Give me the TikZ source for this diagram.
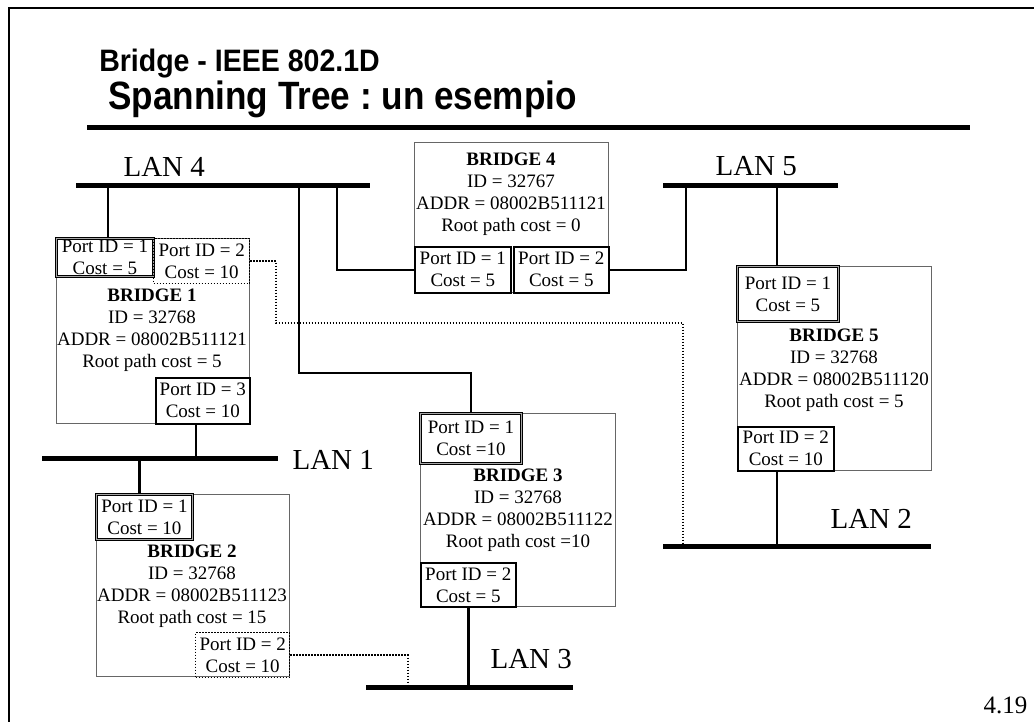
\documentclass[tikz,border=0pt]{standalone}
\usepackage{fontspec}
\setmainfont{Liberation Serif}
\newfontfamily\headfont{Liberation Sans}
\frenchspacing
\begin{document}
\begin{tikzpicture}[x=1pt, y=-1pt, font=\fontsize{19}{22}\selectfont,
    bridgebox/.style={draw=black!60, line width=0.8pt, inner sep=0pt, anchor=north west},
    portbox/.style={inner sep=0pt, anchor=north west, align=center},
    rootport/.style={portbox, draw, double=black!35, double distance=1.4pt, line width=0.9pt},
    desport/.style={portbox, draw, line width=1.6pt},
    blkport/.style={portbox, draw, dash pattern=on 1.5pt off 1.5pt, line width=1.4pt},
    bus/.style={line width=5pt},
    link/.style={line width=2.5pt},
    blklink/.style={dash pattern=on 1.5pt off 1.5pt, line width=1.6pt},
    lanlabel/.style={anchor=base west, font=\fontsize{29}{34}\selectfont},
    info/.style={align=center}]
  \useasboundingbox (0,0) rectangle (1034,722);
  % frame and heading
  \draw[line width=2.6pt] (9,722) -- (9,8) -- (1034,8);
  \node[anchor=base west, xscale=0.92, font=\headfont\bfseries\fontsize{31}{36}\selectfont] (head) at (96,72) {Bridge - IEEE 802.1D};
  \node[anchor=base west, xscale=0.89, font=\headfont\bfseries\fontsize{39.5}{46}\selectfont] (title) at (105,110) {Spanning Tree : un esempio};
  \draw[line width=5pt] (87,128) -- (970,128);
  \node[anchor=base east, font=\fontsize{25}{30}\selectfont] (pageno) at (1031,713) {4.19};

  % LANs
  \coordinate (lan4w) at (76,186);  \coordinate (lan4e) at (370,186);
  \coordinate (lan5w) at (663,186); \coordinate (lan5e) at (838,186);
  \coordinate (lan1w) at (42,458);  \coordinate (lan1e) at (278,458);
  \coordinate (lan2w) at (663,546); \coordinate (lan2e) at (931,546);
  \coordinate (lan3w) at (366,687); \coordinate (lan3e) at (573,687);
  \foreach \l in {4,5,1,2,3} \draw[bus] (lan\l w) -- (lan\l e);
  \node[lanlabel] (lab4) at (120,177) {LAN 4};
  \node[lanlabel] (lab5) at (712,176) {LAN 5};
  \node[lanlabel] (lab1) at (289,469) {LAN 1};
  \node[lanlabel] (lab2) at (827,528) {LAN 2};
  \node[lanlabel] (lab3) at (487,668) {LAN 3};

  % bridges
  \node[bridgebox, minimum width=193, minimum height=185] (b1) at (56,238) {};
  \node[bridgebox, minimum width=193, minimum height=182] (b2) at (96,494) {};
  \node[bridgebox, minimum width=195, minimum height=193] (b3) at (420,413) {};
  \node[bridgebox, minimum width=194, minimum height=150] (b4) at (414,142) {};
  \node[bridgebox, minimum width=194, minimum height=204] (b5) at (737,266) {};
  \node[info] (b1txt) at (152,330) {\textbf{BRIDGE 1}\\ID = 32768\\ADDR = 08002B511121\\Root path cost = 5};
  \node[info] (b2txt) at (192,586) {\textbf{BRIDGE 2}\\ID = 32768\\ADDR = 08002B511123\\Root path cost = 15};
  \node[info] (b3txt) at (518,510) {\textbf{BRIDGE 3}\\ID = 32768\\ADDR = 08002B511122\\Root path cost =10};
  \node[info] (b4txt) at (511,194) {\textbf{BRIDGE 4}\\ID = 32767\\ADDR = 08002B511121\\Root path cost = 0};
  \node[info] (b5txt) at (834,370) {\textbf{BRIDGE 5}\\ID = 32768\\ADDR = 08002B511120\\Root path cost = 5};

  % ports
  \node[rootport, minimum width=97, minimum height=38] (b1p1) at (56,238) {Port ID = 1\\Cost = 5};
  \node[blkport, minimum width=96, minimum height=45] (b1p2) at (153,238) {Port ID = 2\\Cost = 10};
  \node[desport, minimum width=94, minimum height=46] (b1p3) at (155,377) {Port ID = 3\\Cost = 10};
  \node[rootport, minimum width=96, minimum height=45] (b2p1) at (96,494) {Port ID = 1\\Cost = 10};
  \node[blkport, minimum width=94, minimum height=45] (b2p2) at (195,632) {Port ID = 2\\Cost = 10};
  \node[rootport, minimum width=101, minimum height=50] (b3p1) at (420,413) {Port ID = 1\\Cost =10};
  \node[desport, minimum width=95, minimum height=44] (b3p2) at (420,562) {Port ID = 2\\Cost = 5};
  \node[desport, minimum width=96, minimum height=46] (b4p1) at (414,246) {Port ID = 1\\Cost = 5};
  \node[desport, minimum width=95, minimum height=46] (b4p2) at (513,246) {Port ID = 2\\Cost = 5};
  \node[rootport, minimum width=101, minimum height=55] (b5p1) at (737,266) {Port ID = 1\\Cost = 5};
  \node[desport, minimum width=96, minimum height=44] (b5p2) at (737,426) {Port ID = 2\\Cost = 10};

  % links
  \coordinate (tap4a) at (299,186); \coordinate (bend3) at (299,373);
  \coordinate (tap4b) at (337,186); \coordinate (tap5a) at (686,186);
  \coordinate (blk1) at (276,323); \coordinate (blk2) at (683,323);
  \coordinate (tap2) at (683,546); \coordinate (tap3) at (408,687);
  \draw[link] ([xshift=3pt]b1p1.north) -- ([xshift=3pt]b1p1.north |- lan4w);
  \draw[link] (b4p1.west) -| (tap4b);
  \draw[link] (b3p1.north) |- (bend3) -- (tap4a);
  \draw[link] (b4p2.east) -| (tap5a);
  \draw[link] ([xshift=-11pt]b5p1.north) -- ([xshift=-11pt]b5p1.north |- lan5w);
  \draw[link] ([xshift=-9pt]b5p2.south) -- ([xshift=-9pt]b5p2.south |- lan2w);
  \draw[link] ([xshift=-7pt]b1p3.south) -- ([xshift=-7pt]b1p3.south |- lan1w);
  \draw[link] ([xshift=-5pt]b2p1.north) -- ([xshift=-5pt]b2p1.north |- lan1w);
  \draw[link] (b3p2.south) -- (b3p2.south |- lan3w);
  \draw[blklink] (b1p2.east) -| (blk1) -- (blk2) -- (tap2);
  \draw[blklink] (b2p2.east) -| (tap3);
\end{tikzpicture}
\end{document}
